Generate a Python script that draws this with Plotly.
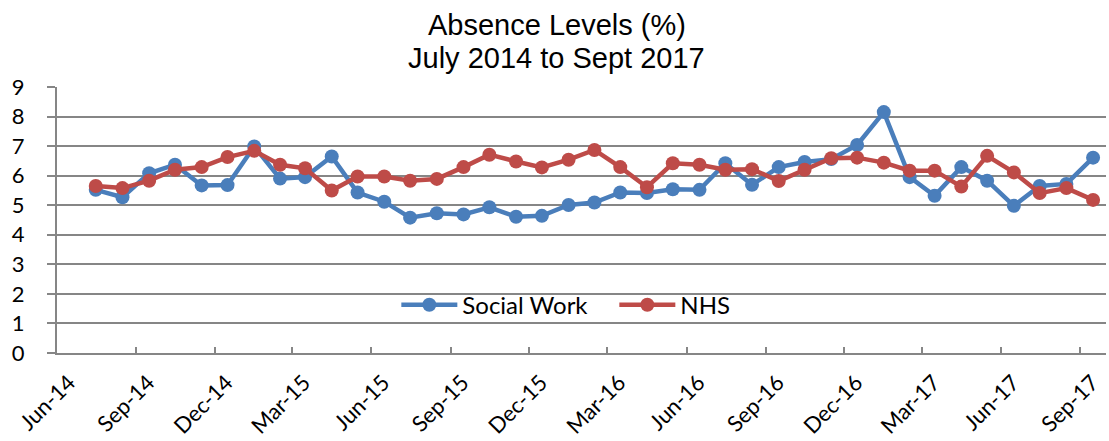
import plotly.graph_objects as go

months = ["2014-07-16", "2014-08-16", "2014-09-16", "2014-10-16", "2014-11-16", "2014-12-16",
          "2015-01-16", "2015-02-15", "2015-03-16", "2015-04-16", "2015-05-16", "2015-06-16",
          "2015-07-16", "2015-08-16", "2015-09-16", "2015-10-16", "2015-11-16", "2015-12-16",
          "2016-01-16", "2016-02-15", "2016-03-16", "2016-04-16", "2016-05-16", "2016-06-16",
          "2016-07-16", "2016-08-16", "2016-09-16", "2016-10-16", "2016-11-16", "2016-12-16",
          "2017-01-16", "2017-02-15", "2017-03-16", "2017-04-16", "2017-05-16", "2017-06-16",
          "2017-07-16", "2017-08-16", "2017-09-16"]

social_work = [5.52, 5.27, 6.08, 6.37, 5.67, 5.68, 6.99, 5.90, 5.95, 6.65, 5.43,
               5.12, 4.58, 4.73, 4.69, 4.93, 4.61, 4.64, 5.01, 5.09, 5.43, 5.41, 5.54, 5.52, 6.42,
               5.69, 6.29, 6.46, 6.56, 7.04, 8.15, 5.95, 5.32, 6.29, 5.83, 4.98, 5.65, 5.72, 6.61]

nhs = [5.65, 5.58, 5.83, 6.20, 6.29, 6.63, 6.84, 6.37, 6.25, 5.50, 5.97,
       5.97, 5.83, 5.89, 6.29, 6.71, 6.48, 6.28, 6.54, 6.87, 6.29, 5.61, 6.42, 6.37, 6.20,
       6.22, 5.82, 6.20, 6.59, 6.61, 6.44, 6.17, 6.17, 5.63, 6.67, 6.11, 5.41, 5.58, 5.18]

tick_vals = ["2014-06-01", "2014-09-01", "2014-12-01", "2015-03-01", "2015-06-01", "2015-09-01",
             "2015-12-01", "2016-03-01", "2016-06-01", "2016-09-01", "2016-12-01", "2017-03-01",
             "2017-06-01", "2017-09-01"]
tick_text = ["Jun-14", "Sep-14", "Dec-14", "Mar-15", "Jun-15", "Sep-15", "Dec-15",
             "Mar-16", "Jun-16", "Sep-16", "Dec-16", "Mar-17", "Jun-17", "Sep-17"]

title_lines = ["Absence Levels (%)", "July 2014 to Sept 2017"]

BLUE = "#4a7ebb"
RED = "#be4b48"
GRID = "#868686"

fig = go.Figure()
fig.add_trace(go.Scatter(x=months, y=social_work, name="Social Work", mode="lines+markers",
                         line=dict(color=BLUE, width=4.5), marker=dict(color=BLUE, size=14)))
fig.add_trace(go.Scatter(x=months, y=nhs, name="NHS", mode="lines+markers",
                         line=dict(color=RED, width=4.5), marker=dict(color=RED, size=14)))

title_font = dict(family="Liberation Sans, Arial, sans-serif", size=29, color="black")
fig.add_annotation(text=title_lines[0], xref="paper", yref="paper", x=0.4766, y=1,
                   yshift=87 - 25, xanchor="center", yanchor="middle", showarrow=False,
                   font=title_font)
fig.add_annotation(text=title_lines[1], xref="paper", yref="paper", x=0.4766, y=1,
                   yshift=87 - 58, xanchor="center", yanchor="middle", showarrow=False,
                   font=title_font)

fig.update_layout(
    width=1109, height=441,
    margin=dict(l=57, r=3, t=87, b=88, autoexpand=False),
    paper_bgcolor="white", plot_bgcolor="white",
    font=dict(family="Lato, Liberation Sans, sans-serif", color="black"),
    legend=dict(orientation="h", x=0.5313, xanchor="center", y=0.18, yanchor="middle",
                font=dict(size=24, family="Lato, sans-serif"), bgcolor="rgba(0,0,0,0)",
                itemwidth=56, entrywidth=147),
    showlegend=True,
)
fig.update_xaxes(type="date", range=["2014-06-01", "2017-10-01"], automargin=False,
                 tickvals=tick_vals, ticktext=tick_text, tickangle=-45,
                 tickfont=dict(size=22), showgrid=False,
                 showline=True, linecolor=GRID, linewidth=2,
                 ticks="inside", ticklen=6, tickcolor=GRID, tickwidth=2,
                 ticklabelshift=12, ticklabelstandoff=6)
fig.update_yaxes(range=[0, 9], dtick=1, tickfont=dict(size=22), automargin=False,
                 showgrid=True, gridcolor=GRID, gridwidth=2,
                 showline=True, linecolor=GRID, linewidth=2,
                 ticks="outside", ticklen=8, tickcolor=GRID, tickwidth=2,
                 ticklabelstandoff=18, zeroline=False)

fig.write_html("out.html")
